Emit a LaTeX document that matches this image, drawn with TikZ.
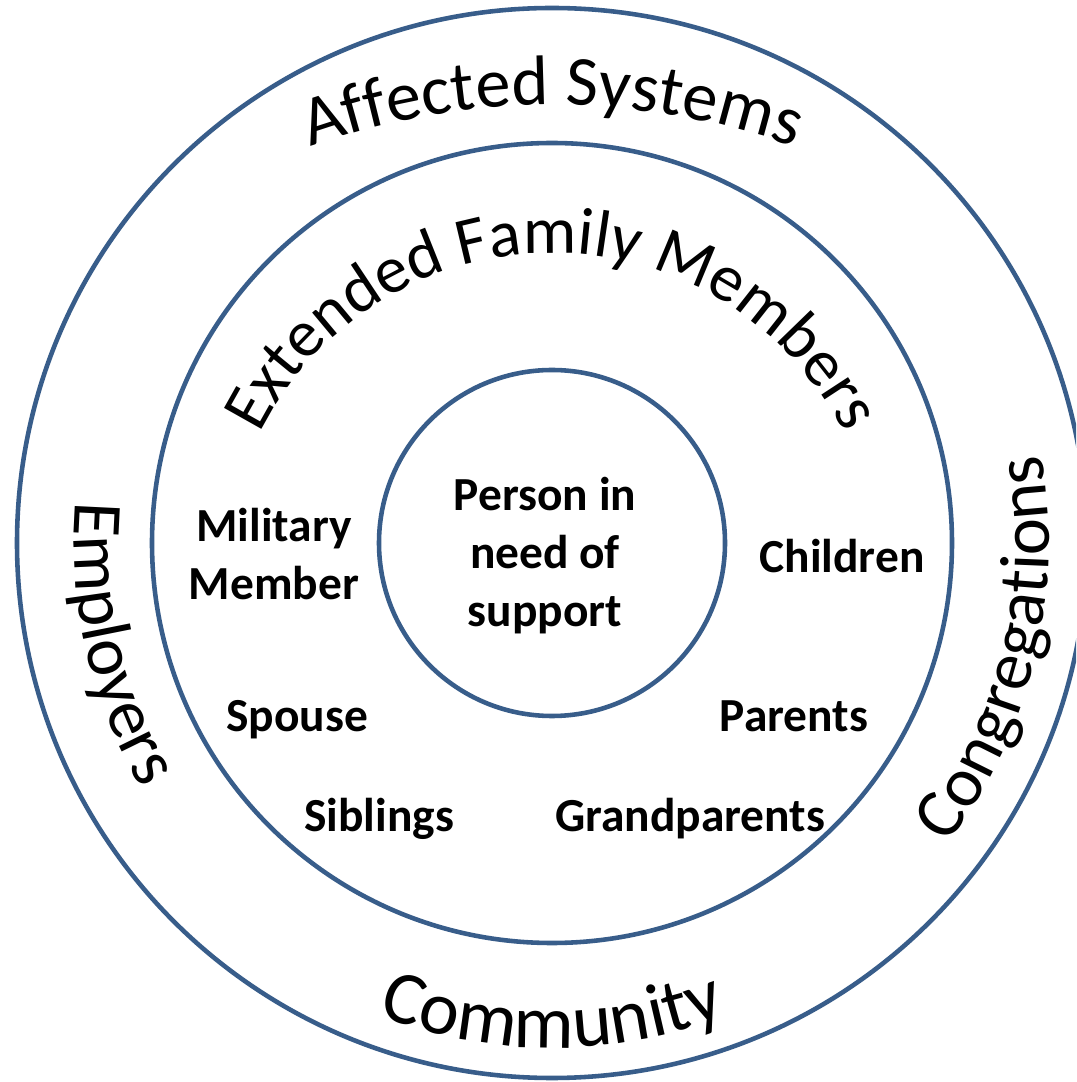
\documentclass[tikz,border=0pt]{standalone}
\usepackage{fontspec}
\setmainfont{Carlito}
\usetikzlibrary{decorations.text}
\definecolor{ringblue}{HTML}{385D8A}
\newcommand{\ringfont}{\fontsize{20}{24}\selectfont}
\newcommand{\famfont}{\fontsize{19}{23}\selectfont}
\newcommand{\comfont}{\fontsize{21.5}{26}\selectfont}

\begin{document}
\begin{tikzpicture}[
  ring/.style={circle,draw=ringblue,line width=1.3pt,inner sep=0pt},
  who/.style={font=\fontsize{13.5}{16.5}\selectfont\bfseries,align=center,inner sep=0pt},
  ringtext/.style={decorate,decoration={text along path,text align=center,text={#1}}}
  ]
  \useasboundingbox (0,0) rectangle (10.76,10.82);
  \clip (0,0) rectangle (10.76,10.82);
  \fill[white] (0,0) rectangle (10.76,10.82);
  \coordinate (O) at (5.52,5.39);
  \node[ring,minimum size=10.70cm] (outer) at (O) {};
  \node[ring,minimum size=8.00cm] (middle) at (O) {};
  \node[ring,minimum size=3.46cm] (inner) at (O) {};
  \path[ringtext={|\ringfont|Affected Systems}]
    ([shift={(130:7.17)}]5.52,2.60) arc[start angle=130,end angle=50,radius=7.17];
  \path[ringtext={|\famfont|Extended Family Members}]
    ([shift={(160:3.27)}]5.52,5.02) arc[start angle=160,end angle=20,radius=3.27];
  \path[ringtext={|\ringfont|Employers}]
    ([shift={(150:4.78)}]O) arc[start angle=150,end angle=236,radius=4.78];
  \path[ringtext={|\ringfont|Congregations}]
    ([shift={(-60:4.97)}]O) arc[start angle=-60,end angle=33,radius=4.97];
  \path[ringtext={|\comfont|Community}]
    ([shift={(230:4.83)}]5.52,5.17) arc[start angle=230,end angle=310,radius=4.83];
  \node[who] (person) at (5.45,5.265) {Person in\\need of\\support};
  \node[who] (mil) at (2.74,5.275) {Military\\Member};
  \foreach \n/\x/\y/\t in {child/8.42/5.09/Children,spouse/2.97/3.50/Spouse,
    parents/7.94/3.50/Parents,sib/3.79/2.50/Siblings,grand/6.90/2.50/Grandparents}
    \node[who,anchor=base] (\n) at (\x,\y) {\t};
\end{tikzpicture}
\end{document}
